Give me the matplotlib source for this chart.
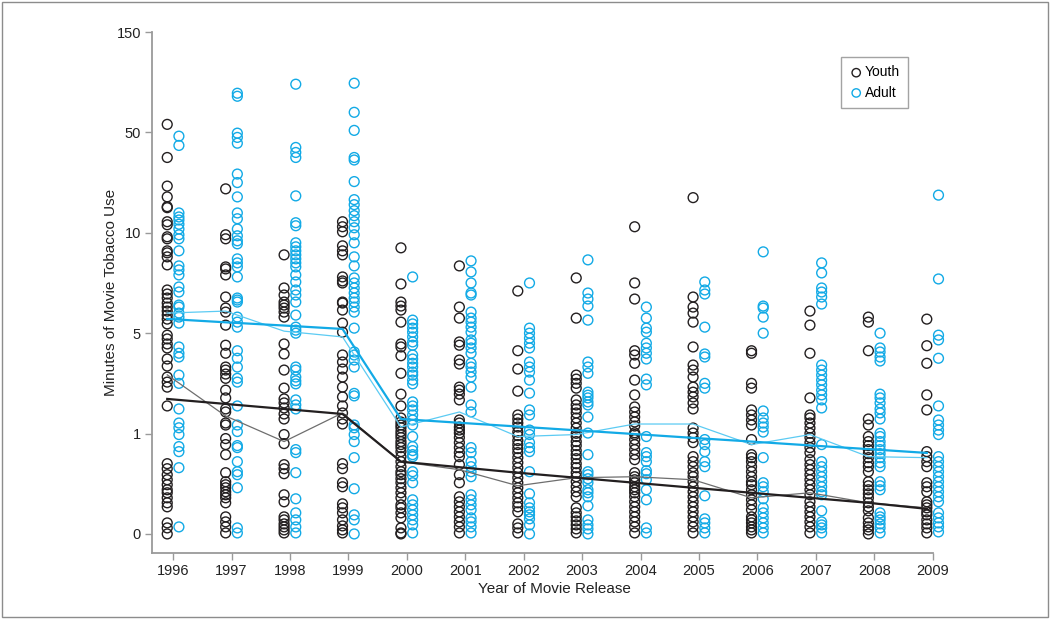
import numpy as np
import matplotlib
matplotlib.use("Agg")
import matplotlib.pyplot as plt
from matplotlib.patches import Rectangle
from matplotlib.ticker import NullLocator

plt.rcParams['font.family'] = ['Liberation Sans Narrow', 'Liberation Sans', 'DejaVu Sans']

# ---- data (minutes of tobacco use per movie) ----
years = [1996, 1997, 1998, 1999, 2000, 2001, 2002, 2003, 2004, 2005, 2006, 2007, 2008, 2009]

youth_1996 = [58, 40, 28.6, 24.3, 20.4, 20, 14.4, 13.2, 9.8, 9.7, 9.1, 9.0, 8.8, 8.4, 7.15, 6.95, 6.75,
              6.5, 6.3, 6.1, 5.9, 5.7, 5.46, 4.92, 4.77, 4.57, 4.41, 3.97, 3.69, 3.25, 3.05, 2.85, 2.10,
              0.70, 0.65, 0.59, 0.54, 0.49, 0.44, 0.41, 0.36, 0.31, 0.27, 0.11, 0.06, 0.0]
youth_1997 = [27.5, 9.9, 9.7, 8.3, 8.2, 7.9, 6.8, 6.25, 6.05, 5.4, 4.52, 4.2, 3.65, 3.53, 3.37, 3.2, 2.73,
              2.42, 1.98, 1.86, 1.42, 1.34, 0.95, 0.89, 0.79, 0.61, 0.52, 0.49, 0.46, 0.42, 0.39, 0.36,
              0.31, 0.17, 0.12, 0.07, 0.01]
youth_1998 = [8.9, 7.25, 6.9, 6.55, 6.4, 6.25, 6.05, 5.8, 4.57, 4.17, 3.53, 2.81, 2.38, 2.22, 2.02, 1.78,
              1.58, 0.99, 0.9, 0.69, 0.65, 0.60, 0.39, 0.32, 0.17, 0.14, 0.10, 0.07, 0.04, 0.01]
youth_1999 = [14.4, 12.4, 10.4, 9.35, 9.1, 8.9, 7.8, 7.6, 7.5, 6.55, 6.5, 6.15, 5.5, 5.05, 4.13, 3.85,
              3.57, 3.25, 2.85, 2.46, 2.1, 1.82, 1.58, 1.38, 0.70, 0.65, 0.51, 0.47, 0.30, 0.26, 0.21,
              0.14, 0.08, 0.04, 0.01]
youth_2000 = [9.25, 7.45, 6.55, 6.35, 6.15, 5.55, 4.57, 4.45, 4.1, 3.4, 2.57, 2.1, 1.62, 1.46, 1.34, 1.23,
              1.08, 0.99, 0.96, 0.92, 0.89, 0.86, 0.82, 0.77, 0.72, 0.67, 0.62, 0.59, 0.55, 0.51, 0.46,
              0.41, 0.36, 0.29, 0.26, 0.21, 0.16, 0.06, 0.01, 0.0]
youth_2001 = [8.35, 6.3, 5.75, 4.65, 4.52, 3.93, 3.77, 2.85, 2.73, 2.57, 2.34, 1.54, 1.42, 1.26, 1.14,
              1.02, 0.96, 0.91, 0.86, 0.81, 0.77, 0.69, 0.59, 0.51, 0.37, 0.32, 0.27, 0.22, 0.17, 0.12,
              0.07, 0.01]
youth_2002 = [7.1, 4.3, 3.57, 2.69, 1.74, 1.58, 1.42, 1.26, 1.06, 0.98, 0.93, 0.89, 0.85, 0.81, 0.76,
              0.71, 0.66, 0.61, 0.56, 0.51, 0.46, 0.41, 0.36, 0.31, 0.27, 0.22, 0.10, 0.06, 0.01]
youth_2003 = [7.75, 5.75, 3.33, 3.17, 3.0, 2.81, 2.34, 2.14, 1.98, 1.82, 1.62, 1.42, 1.22, 1.01, 0.97,
              0.92, 0.88, 0.83, 0.79, 0.75, 0.70, 0.66, 0.61, 0.57, 0.52, 0.47, 0.42, 0.37, 0.26, 0.21,
              0.17, 0.13, 0.09, 0.05, 0.01]
youth_2004 = [12.4, 7.5, 6.7, 4.3, 4.13, 3.8, 3.13, 2.54, 2.06, 1.86, 1.66, 1.46, 1.30, 1.03, 0.99, 0.94,
              0.89, 0.84, 0.79, 0.74, 0.61, 0.57, 0.54, 0.51, 0.47, 0.44, 0.41, 0.37, 0.32, 0.27, 0.22,
              0.17, 0.12, 0.07, 0.01]
youth_2005 = [24, 6.8, 6.3, 6.0, 5.55, 4.45, 3.73, 3.53, 3.25, 2.85, 2.65, 2.46, 2.22, 1.98, 1.22, 1.02,
              0.96, 0.91, 0.77, 0.72, 0.67, 0.61, 0.57, 0.52, 0.47, 0.42, 0.37, 0.32, 0.27, 0.22, 0.17,
              0.12, 0.07, 0.01]
youth_2006 = [4.3, 4.2, 3.0, 2.81, 1.94, 1.74, 1.54, 1.34, 0.94, 0.79, 0.76, 0.72, 0.67, 0.62, 0.57,
              0.52, 0.49, 0.44, 0.39, 0.34, 0.29, 0.24, 0.17, 0.14, 0.11, 0.07, 0.04, 0.01]
youth_2007 = [6.1, 5.4, 4.2, 2.42, 1.74, 1.62, 1.42, 1.22, 1.01, 0.96, 0.91, 0.86, 0.81, 0.74, 0.69,
              0.64, 0.59, 0.54, 0.49, 0.44, 0.39, 0.32, 0.27, 0.22, 0.17, 0.12, 0.07, 0.01]
youth_2008 = [5.8, 5.55, 4.3, 1.58, 1.34, 0.97, 0.92, 0.88, 0.84, 0.80, 0.76, 0.71, 0.67, 0.62, 0.52,
              0.48, 0.44, 0.40, 0.36, 0.31, 0.27, 0.23, 0.16, 0.11, 0.07, 0.04, 0.0]
youth_2009 = [5.7, 4.5, 3.8, 2.54, 1.94, 0.82, 0.77, 0.72, 0.67, 0.51, 0.47, 0.42, 0.32, 0.29, 0.26,
              0.22, 0.19, 0.14, 0.10, 0.06, 0.01]

adult_1996 = [48.5, 44.8, 17.9, 16.3, 15.1, 13.4, 11.5, 9.9, 9.7, 9.1, 8.35, 8.15, 7.9, 7.3, 7.05, 6.4,
              6.3, 6.0, 5.8, 5.5, 4.45, 4.2, 4.05, 3.33, 3.0, 1.98, 1.42, 1.23, 0.99, 0.87, 0.82, 0.66,
              0.07]
adult_1997 = [89, 86, 49.7, 48, 45.7, 33.4, 30, 24.3, 17.9, 15.6, 11.5, 9.85, 9.6, 9.45, 8.7, 8.5, 8.3,
              7.8, 6.75, 6.65, 6.55, 5.8, 5.55, 5.3, 4.3, 4.0, 3.65, 3.2, 3.05, 2.1, 1.34, 1.08, 0.88,
              0.86, 0.72, 0.62, 0.59, 0.46, 0.06, 0.01]
adult_1998 = [98, 44, 42, 40, 24.7, 14, 12.8, 9.5, 9.3, 9.1, 8.9, 8.7, 8.5, 8.3, 7.9, 7.55, 7.15, 6.9,
              6.55, 5.9, 5.3, 5.15, 5.0, 3.65, 3.53, 3.25, 3.1, 2.98, 2.34, 2.14, 1.98, 0.84, 0.81,
              0.61, 0.35, 0.21, 0.14, 0.07, 0.01]
adult_1999 = [99, 70, 52, 40, 39, 30.4, 23.2, 21.2, 18.8, 16.8, 14.4, 12, 9.9, 9.5, 8.8, 8.35, 7.75, 7.5,
              7.25, 7.0, 6.75, 6.55, 6.3, 6.05, 5.25, 4.25, 4.13, 3.93, 3.65, 2.6, 2.5, 1.34, 1.23,
              0.99, 0.92, 0.76, 0.45, 0.19, 0.14, 0.0]
adult_2000 = [7.8, 5.65, 5.46, 5.25, 5.05, 4.85, 4.65, 4.52, 4.13, 3.97, 3.8, 3.65, 3.45, 3.33, 3.13,
              2.98, 2.26, 2.1, 1.94, 1.74, 1.54, 1.34, 0.97, 0.87, 0.83, 0.79, 0.77, 0.62, 0.58, 0.51,
              0.34, 0.29, 0.24, 0.19, 0.14, 0.09, 0.01]
adult_2001 = [8.6, 8.05, 7.5, 7.0, 6.9, 6.05, 5.75, 5.55, 5.3, 5.05, 4.73, 4.6, 4.41, 4.2, 3.8, 3.65,
              3.45, 3.25, 2.85, 2.14, 1.86, 0.86, 0.81, 0.72, 0.67, 0.62, 0.57, 0.39, 0.34, 0.29, 0.24,
              0.16, 0.12, 0.07, 0.01]
adult_2002 = [7.5, 5.25, 5.0, 4.8, 4.6, 4.41, 3.85, 3.65, 3.45, 3.13, 2.61, 1.94, 1.74, 1.14, 0.99,
              0.91, 0.86, 0.82, 0.62, 0.40, 0.31, 0.26, 0.22, 0.19, 0.15, 0.09, 0.0]
adult_2003 = [8.65, 7.0, 6.7, 6.35, 5.65, 3.85, 3.65, 3.4, 2.65, 2.53, 2.42, 2.26, 2.14, 1.66, 1.02,
              0.79, 0.62, 0.59, 0.55, 0.51, 0.44, 0.41, 0.37, 0.28, 0.14, 0.09, 0.05, 0.0]
adult_2004 = [6.3, 5.75, 5.25, 5.05, 4.6, 4.41, 4.2, 3.97, 3.17, 2.94, 0.97, 0.81, 0.77, 0.72, 0.63,
              0.60, 0.54, 0.44, 0.34, 0.06, 0.01]
adult_2005 = [7.55, 7.15, 6.95, 5.3, 4.17, 4.05, 3.0, 2.81, 0.94, 0.89, 0.82, 0.72, 0.67, 0.38, 0.15,
              0.11, 0.06, 0.01]
adult_2006 = [9.05, 6.35, 6.25, 5.8, 5.0, 1.9, 1.62, 1.42, 1.26, 1.06, 0.76, 0.51, 0.47, 0.42, 0.35,
              0.26, 0.21, 0.16, 0.11, 0.06, 0.01]
adult_2007 = [8.5, 8.0, 7.25, 7.05, 6.8, 6.45, 3.73, 3.53, 3.33, 3.13, 2.94, 2.73, 2.54, 2.34, 2.02,
              0.89, 0.72, 0.67, 0.62, 0.57, 0.52, 0.47, 0.42, 0.39, 0.23, 0.12, 0.09, 0.06, 0.01]
adult_2008 = [5.0, 4.41, 4.25, 4.05, 3.89, 2.57, 2.42, 2.22, 1.98, 1.82, 1.58, 1.01, 0.97, 0.92, 0.88,
              0.84, 0.80, 0.76, 0.71, 0.67, 0.52, 0.48, 0.44, 0.21, 0.17, 0.14, 0.10, 0.06, 0.01]
adult_2009 = [25, 7.7, 4.92, 4.73, 4.0, 2.1, 1.54, 1.34, 1.14, 0.99, 0.77, 0.72, 0.67, 0.62, 0.57, 0.52,
              0.47, 0.42, 0.37, 0.32, 0.21, 0.16, 0.11, 0.07, 0.02]

# yearly means and segmented trend fits
youth_mean = [3.34, 1.70, 0.92, 1.82, 0.72, 0.64, 0.48, 0.56, 0.57, 0.54, 0.36, 0.41, 0.31, 0.26]
youth_trend = [2.38, 2.18, 1.98, 1.78, 0.72, 0.665, 0.61, 0.56, 0.51, 0.46, 0.41, 0.36, 0.31, 0.25]
adult_mean = [6.0, 6.1, 5.1, 4.85, 1.26, 1.86, 0.97, 0.99, 1.38, 1.38, 0.89, 0.99, 0.77, 0.76]
adult_trend = [5.71, 5.54, 5.38, 5.21, 1.58, 1.43, 1.28, 1.13, 0.995, 0.957, 0.92, 0.882, 0.845, 0.807]

y_ticks = [0, 1, 5, 10, 50, 150]

youth_points = [youth_1996, youth_1997, youth_1998, youth_1999, youth_2000, youth_2001, youth_2002,
                youth_2003, youth_2004, youth_2005, youth_2006, youth_2007, youth_2008, youth_2009]
adult_points = [adult_1996, adult_1997, adult_1998, adult_1999, adult_2000, adult_2001, adult_2002,
                adult_2003, adult_2004, adult_2005, adult_2006, adult_2007, adult_2008, adult_2009]

BLACK = '#231f20'
BLUE = '#12aae6'
GRID = '#9a9a9a'

# piecewise scale: equal spacing between labelled ticks
_pos = np.arange(len(y_ticks), dtype=float)


def fwd(v):
    v = np.asarray(v, dtype=float)
    out = np.interp(v, y_ticks, _pos)
    out = np.where(v < 0, v, out)
    out = np.where(v > 150, 5 + (v - 150) / 100.0, out)
    return out


def inv(p):
    p = np.asarray(p, dtype=float)
    out = np.interp(p, _pos, y_ticks)
    out = np.where(p < 0, p, out)
    out = np.where(p > 5, 150 + (p - 5) * 100.0, out)
    return out


fig = plt.figure(figsize=(10.5, 6.19), dpi=100)
fig.patches.append(Rectangle((0.002, 0.003), 0.996, 0.994, transform=fig.transFigure,
                             fill=False, edgecolor='#8c8c8c', linewidth=1.0))
ax = fig.add_axes([0.1448, 0.1066, 0.7657, 0.8417])
ax.set_yscale('function', functions=(fwd, inv))

offset = 0.1
msize = 50
for yr, yv, av in zip(years, youth_points, adult_points):
    ax.scatter(np.full(len(yv), yr - offset), yv, s=msize, facecolors='none',
               edgecolors=BLACK, linewidths=1.0, zorder=2)
    ax.scatter(np.full(len(av), yr + offset), av, s=msize, facecolors='none',
               edgecolors=BLUE, linewidths=1.0, zorder=2)

line_x = np.array(years) - offset
ax.plot(line_x, youth_mean, color='#6e6e6e', lw=0.9, zorder=3)
ax.plot(line_x, adult_mean, color='#5ccbf3', lw=0.9, zorder=3)
ax.plot(line_x, youth_trend, color=BLACK, lw=1.6, zorder=4)
ax.plot(line_x, adult_trend, color=BLUE, lw=1.6, zorder=4)

ax.set_xlim(1995.64, 2009.4)
ax.set_ylim(-0.19, 150)
ax.set_xticks(years)
ax.set_yticks(y_ticks)
ax.set_yticklabels([str(t) for t in y_ticks])
ax.yaxis.set_minor_locator(NullLocator())

for side in ['top', 'right']:
    ax.spines[side].set_visible(False)
for side in ['left', 'bottom']:
    ax.spines[side].set_color(GRID)
    ax.spines[side].set_linewidth(1.3)
ax.spines['bottom'].set_bounds(1995.64, 2009)
ax.tick_params(axis='both', direction='out', length=5, width=1, color=GRID,
               labelsize=10.5, labelcolor='#222222', pad=3)

ax.set_xlabel('Year of Movie Release', fontsize=11, color='#222222', labelpad=3)
ax.set_ylabel('Minutes of Movie Tobacco Use', fontsize=11, color='#222222', labelpad=-1)

hy = ax.scatter([], [], s=36, facecolors='none', edgecolors=BLACK, linewidths=1.0)
ha = ax.scatter([], [], s=36, facecolors='none', edgecolors=BLUE, linewidths=1.0)
leg = ax.legend([hy, ha], ['Youth', 'Adult'], loc='upper right',
                bbox_to_anchor=(908 / 1050, 1 - 57 / 619), bbox_transform=fig.transFigure,
                borderaxespad=0, fancybox=False, frameon=True, fontsize=10,
                handletextpad=0.1, handlelength=1.0, borderpad=0.6, labelspacing=0.45)
leg.get_frame().set_edgecolor('#8c8c8c')
leg.get_frame().set_linewidth(1.0)

fig.savefig('out.png', dpi=100)
